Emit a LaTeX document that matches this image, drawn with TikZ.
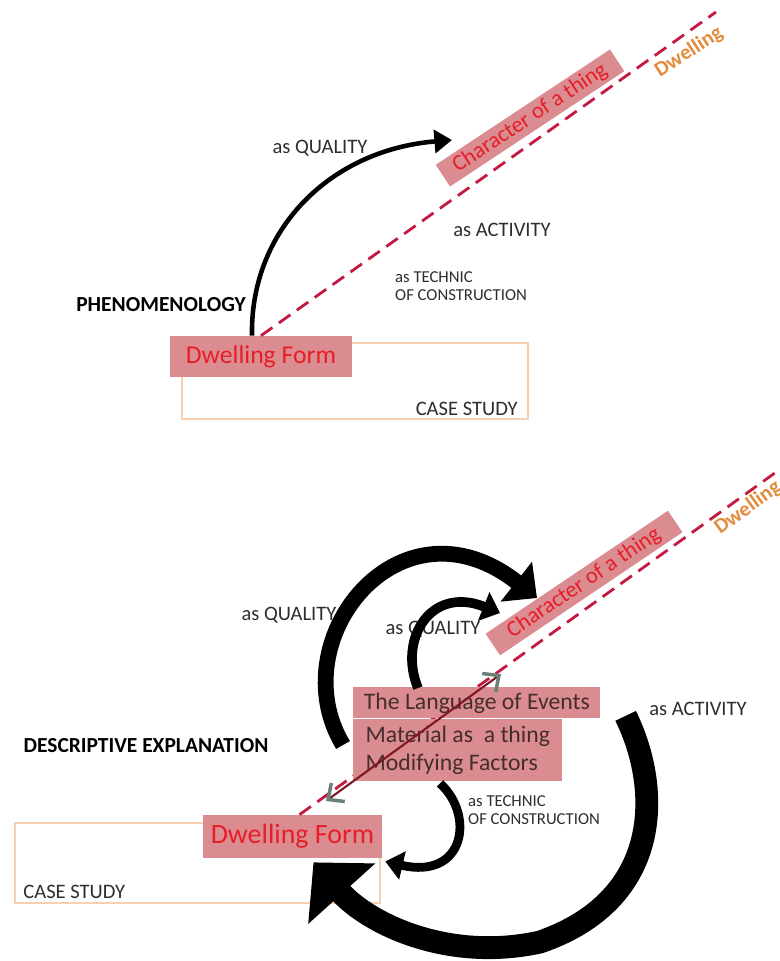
\documentclass[tikz,border=0pt]{standalone}
\usepackage{fontspec}
\setmainfont{Carlito}
\usetikzlibrary{arrows.meta,positioning,calc}

\definecolor{boxpink}{RGB}{219,140,144}
\definecolor{boxred}{RGB}{230,30,40}
\definecolor{dashred}{RGB}{196,26,66}
\definecolor{dwlorange}{RGB}{226,140,62}
\definecolor{casepeach}{RGB}{246,208,176}
\definecolor{inkgray}{RGB}{45,45,45}
\definecolor{langink}{RGB}{70,45,45}
\definecolor{linkred}{RGB}{128,24,34}
\definecolor{headgray}{RGB}{105,128,118}

\begin{document}
\begin{tikzpicture}[
    x=0.02cm, y=-0.02cm,
    pinkbox/.style={fill=boxpink, inner sep=0pt, text=boxred},
    charbox/.style={pinkbox, minimum height=0.52cm, font=\fontsize{12.8}{15}\selectfont},
    dwfbox/.style={pinkbox},
    langbox/.style={pinkbox, text=langink, font=\fontsize{13.5}{15.9}\selectfont},
    casebox/.style={draw=casepeach, line width=0.9pt, inner sep=0pt},
    lbl/.style={text=inkgray, font=\fontsize{11.7}{14}\selectfont},
    sml/.style={text=inkgray, align=left, font=\fontsize{9.5}{10.3}\selectfont},
    head/.style={text=black, font=\bfseries\fontsize{12.2}{14}\selectfont},
    dwl/.style={text=dwlorange, font=\bfseries\fontsize{12}{14}\selectfont},
    axis/.style={draw=dashred, line width=1.6pt, dash pattern=on 8pt off 4.5pt},
    link/.style={draw=linkred, line width=1.2pt, {Straight Barb[color=headgray, length=7pt, width=13pt, line width=2pt]}-{Straight Barb[color=headgray, length=7pt, width=13pt, line width=2pt]}},
]
\useasboundingbox (0,0) rectangle (779,961);

% ===== Upper diagram: phenomenology =====
\node[casebox, minimum width=6.92cm, minimum height=1.52cm] (caseTop) at (355,381) {};
\node[lbl, anchor=base east] (csTop) at ($(caseTop.south east)+(-5,-4)$) {CASE STUDY};
\node[dwfbox, minimum width=3.64cm, minimum height=0.82cm, font=\fontsize{14.6}{17}\selectfont] (dwfTop) at (261,356.5) {Dwelling Form};
\node[charbox, minimum width=4.18cm, rotate=33.5] (charTop) at (530,118) {Character of a thing};

\coordinate (axTop) at (716,12);
\draw[axis] (dwfTop.north) -- (axTop);
\node[dwl, rotate=33] (dwlTop) at (689,52) {Dwelling};

\node[lbl] (qualTop) at (320,148) {as QUALITY};
\node[lbl] (actTop) at (502,230) {as ACTIVITY};
\node[sml, anchor=north west] (techTop) at (389,265) {as TECHNIC\\OF CONSTRUCTION};
\node[head] (phen) at (161,305) {PHENOMENOLOGY};

% quality arc
\coordinate (qTopTail) at ($(dwfTop.north)+(-9,0)$);
\coordinate (qTopTip) at (452,140);
\draw[line width=2.6pt, -{Triangle[length=10pt,width=13pt]}] (qTopTail) .. controls (250,230) and (330,150) .. (qTopTip);

% ===== Lower diagram: descriptive explanation =====
\node[casebox, minimum width=7.3cm, minimum height=1.6cm] (caseBot) at (197.5,863) {};
\node[lbl, anchor=base west] (csBot) at ($(caseBot.south west)+(3,-5)$) {CASE STUDY};
\node[dwfbox, minimum width=3.58cm, minimum height=0.86cm, font=\fontsize{15.9}{18}\selectfont] (dwfBot) at (292.5,836.5) {Dwelling Form};

\coordinate (axBot) at (779,470);
\draw[axis] ($(dwfBot.north)+(7,0)$) -- (axBot);
\node[charbox, minimum width=4.4cm, rotate=34] (charBot) at (584,583) {Character of a thing};
\node[dwl, rotate=36] (dwlBot) at (748,508) {Dwelling};

\node[langbox, minimum width=4.94cm, minimum height=0.62cm, anchor=north west] (lang) at (353,687) {The Language of Events};
\node[langbox, minimum width=4.18cm, minimum height=1.24cm, anchor=north west, align=left] (matl) at (lang.south west) {Material as\ \ a thing\\Modifying Factors};

% two-way link along the axis
\coordinate (lkLow) at (326,801);
\coordinate (lkHigh) at (501,674);
\draw[link] (lkLow) -- (lkHigh);

\node[lbl] (qualOut) at (289,615) {as QUALITY};
\node[lbl] (qualIn) at (433,629) {as QUALITY};
\node[lbl] (actBot) at (698,709) {as ACTIVITY};
\node[sml, anchor=north west] (techBot) at (462,789) {as TECHNIC\\OF CONSTRUCTION};
\node[head] (descr) at (146,746) {DESCRIPTIVE EXPLANATION};

% cycle arrows
\coordinate (qOutTail) at (343,745);
\coordinate (qOutTip) at (537,598);
\draw[line width=9pt, -{Triangle[length=15pt,width=28pt]}] (qOutTail) .. controls (280,640) and (400,490) .. (qOutTip);

\coordinate (qInTail) at ($(lang.north west)+(65,1)$);
\coordinate (qInTip) at (500,613);
\draw[line width=5.5pt, -{Triangle[length=10pt,width=17pt]}] (qInTail) .. controls (398,640) and (430,585) .. (qInTip);

\coordinate (tcTail) at ($(matl.south west)+(87,2)$);
\coordinate (tcTip) at ($(dwfBot.east)+(3,25)$);
\draw[line width=5pt, -{Triangle[length=10pt,width=16pt]}] (tcTail) .. controls (475,815) and (465,880) .. (tcTip);

\coordinate (acTail) at ($(lang.east)+(25,13)$);
\coordinate (acTip) at ($(dwfBot.south)+(21,4)$);
\draw[line width=13pt, -{Triangle[length=24pt,width=50pt]}] (acTail) .. controls (662,790) and (662,900) .. (540,942) .. controls (450,962) and (370,925) .. (acTip);

\end{tikzpicture}
\end{document}
